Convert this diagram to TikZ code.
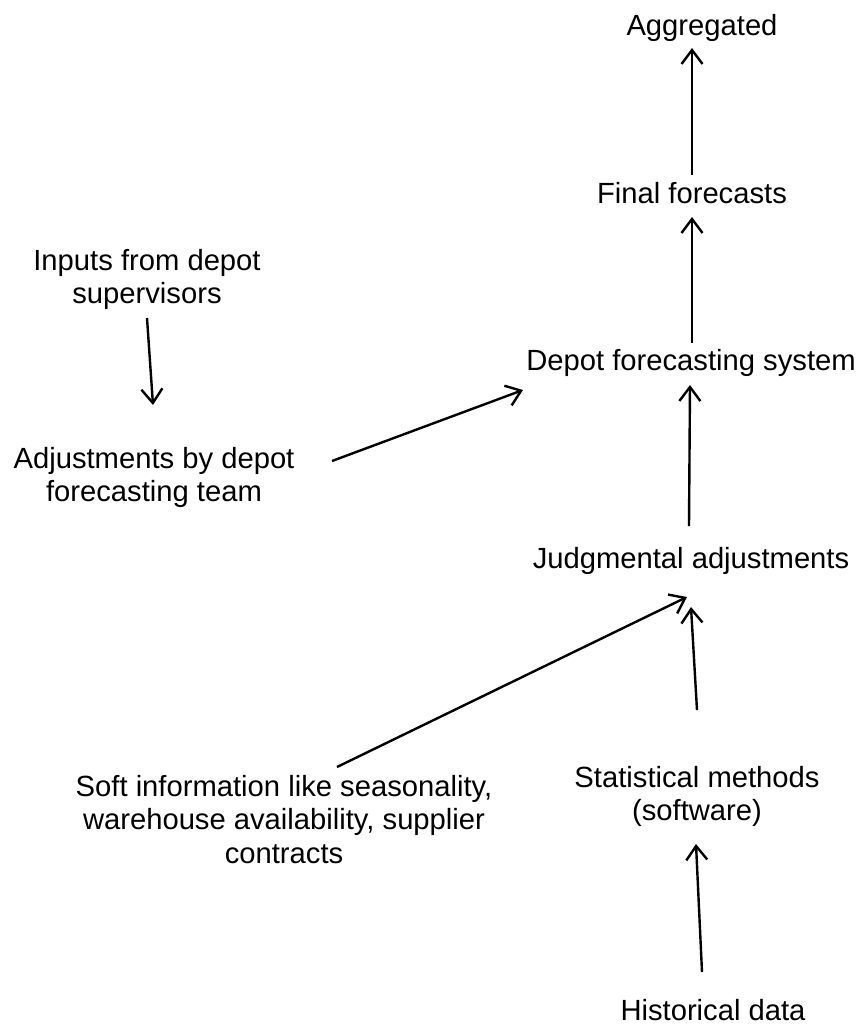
\documentclass[tikz,border=0pt]{standalone}
\usepackage{fontspec}
\setmainfont{Liberation Sans}
\usetikzlibrary{arrows.meta}
\begin{document}
\begin{tikzpicture}[x=1pt,y=-1pt,
  label/.style={inner sep=0pt, outer sep=0pt, align=center,
    font=\fontsize{29.2}{33.5}\selectfont},
  oneline/.style={label, anchor=base},
  block/.style={label, anchor=north},
  arr/.style={draw, line width=2.4pt,
    -{Straight Barb[length=14pt,width=21pt]}}]
\useasboundingbox (0,0) rectangle (861,1026);

% forecasting chain (right column)
\node[oneline] (agg)   at (702,35)   {Aggregated};
\node[oneline] (final) at (692,203)  {Final forecasts};
\node[oneline] (depot) at (691,370)  {Depot forecasting system};
\node[oneline] (judg)  at (691,568)  {Judgmental adjustments};
\node[block]   (stat)  at (697,766)  {Statistical methods\\(software)};
\node[oneline] (hist)  at (713,1020) {Historical data};

% depot-side inputs (left column)
\node[block] (inputs) at (147,249) {Inputs from depot\\supervisors};
\node[block] (adjust) at (154,447) {Adjustments by depot\\forecasting team};
\node[block] (soft)   at (284,775) {Soft information like seasonality,\\warehouse availability, supplier\\contracts};

% connector end points
\coordinate (final-out)  at (692,175);
\coordinate (agg-in)     at (692,48);
\coordinate (depot-out)  at (692,343);
\coordinate (final-in)   at (692,217);
\coordinate (judg-out)   at (689,526);
\coordinate (depot-in)   at (690,385);
\coordinate (inputs-out) at (147,318);
\coordinate (adjust-in)  at (153,405);
\coordinate (adjust-out) at (332,461);
\coordinate (depot-side) at (523,390);
\coordinate (soft-out)   at (337,767);
\coordinate (judg-side)  at (687,597);
\coordinate (stat-out)   at (697,710);
\coordinate (judg-in)    at (691,607);
\coordinate (hist-out)   at (702,972);
\coordinate (stat-in)    at (696,844);

\draw[arr] (final-out)  -- (agg-in);
\draw[arr] (depot-out)  -- (final-in);
\draw[arr] (judg-out)   -- (depot-in);
\draw[arr] (inputs-out) -- (adjust-in);
\draw[arr] (adjust-out) -- (depot-side);
\draw[arr] (soft-out)   -- (judg-side);
\draw[arr] (stat-out)   -- (judg-in);
\draw[arr] (hist-out)   -- (stat-in);
\end{tikzpicture}
\end{document}
